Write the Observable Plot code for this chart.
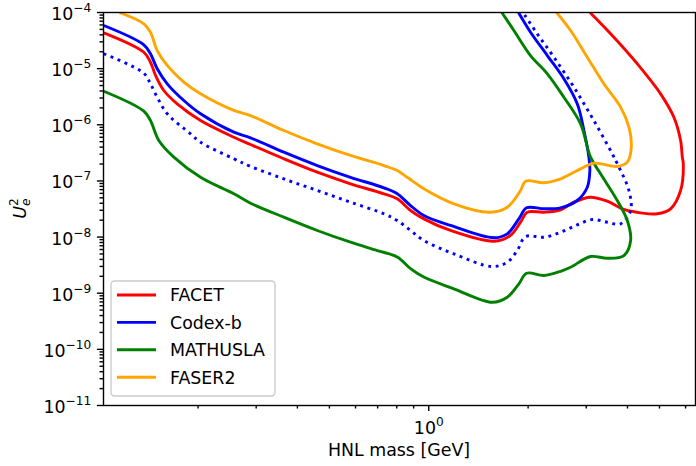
<!DOCTYPE html>
<html><head><meta charset="utf-8">
<script src="https://cdn.jsdelivr.net/npm/d3@7"></script>
<script src="https://cdn.jsdelivr.net/npm/@observablehq/plot@0.6"></script>
<style>
html,body{margin:0;padding:0;background:#fff;}
#chart svg{display:block;font-family:"DejaVu Sans",sans-serif;}
</style></head><body><div id="chart"></div>
<script>
// ---- data ----
const detectors = ["FACET", "Codex-b", "MATHUSLA", "FASER2"];
const detectorColors = ["red", "blue", "green", "orange"];

const facetMass = [0.1036,0.137,0.1435,0.1487,0.1575,0.1729,0.2035,0.2567,0.2884,0.3638,0.4594,0.5794,0.7311,0.8027,0.8807,0.9664,1.164,1.575,1.769,1.897,1.988,2.233,2.509,2.753,3.092,3.474,3.902,4.384,4.924,5.404,5.795,5.905,5.865,5.795,5.53,5.04,4.284,3.638,3.08];
const facetU2 = [4.35e-5,1.96e-5,1.30e-5,7.55e-6,4.08e-6,2.36e-6,1.19e-6,6.01e-7,4.45e-7,2.48e-7,1.43e-7,8.89e-8,5.90e-8,4.80e-8,2.97e-8,2.11e-8,1.31e-8,8.44e-9,1.07e-8,1.84e-8,2.77e-8,2.77e-8,3.06e-8,4.18e-8,5.13e-8,4.35e-8,3.10e-8,2.70e-8,2.60e-8,3.19e-8,6.75e-8,2.02e-7,2.65e-7,5.25e-7,1.36e-6,3.56e-6,1.22e-5,3.63e-5,1e-4];

const codexbMass = [0.1036,0.137,0.1435,0.1504,0.1613,0.1811,0.2035,0.2567,0.2884,0.3638,0.4594,0.5794,0.7311,0.8027,0.8807,0.9664,1.164,1.575,1.729,1.875,1.979,2.233,2.509,2.818,3.022,3.077,3.056,2.951,2.818,2.567,2.287,2.034,1.87];
const codexbU2 = [5.87e-5,2.66e-5,1.84e-5,9.94e-6,5.37e-6,2.71e-6,1.57e-6,7.38e-7,5.86e-7,3.25e-7,1.88e-7,1.16e-7,7.54e-8,5.90e-8,3.65e-8,2.42e-8,1.61e-8,9.70e-9,1.14e-8,2.11e-8,3.32e-8,3.19e-8,3.32e-8,4.48e-8,7.73e-8,1.53e-7,2.65e-7,8.0e-7,2.36e-6,6.59e-6,1.71e-5,4.46e-5,1e-4];

const codexbDottedMass = [0.1036,0.137,0.1435,0.1504,0.1613,0.1897,0.2035,0.2567,0.2884,0.3638,0.4594,0.5794,0.7311,0.8027,0.8807,0.9664,1.191,1.557,1.729,1.854,1.965,2.233,2.509,2.818,3.129,3.474,3.813,4.089,4.041,3.726,3.598,3.164,2.753,2.394,2.132,1.93];
const codexbDottedU2 = [1.84e-5,8.29e-6,5.37e-6,3.10e-6,1.57e-6,6.91e-7,4.89e-7,2.48e-7,1.81e-7,1.09e-7,6.75e-8,4.18e-8,2.60e-8,1.97e-8,1.31e-8,8.69e-9,5.03e-9,2.99e-9,3.56e-9,5.76e-9,1.02e-8,9.94e-9,1.22e-8,1.65e-8,2.05e-8,1.84e-8,1.72e-8,2.97e-8,6.75e-8,2.02e-7,3.04e-7,1.19e-6,4.67e-6,1.60e-5,4.17e-5,1e-4];

const mathuslaMass = [0.1036,0.137,0.1435,0.1521,0.1689,0.2035,0.2567,0.2884,0.3638,0.4594,0.5794,0.6982,0.8027,0.8807,0.9664,1.191,1.557,1.729,1.875,1.979,2.233,2.509,2.69,3.092,3.474,3.902,4.089,3.996,3.726,3.316,3.092,2.884,2.567,2.287,2.034,1.811,1.665];
const mathuslaU2 = [3.96e-6,1.75e-6,1.19e-6,5.25e-7,2.65e-7,1.16e-7,5.90e-8,4.01e-8,2.26e-8,1.31e-8,8.10e-9,5.76e-9,4.41e-9,2.75e-9,1.94e-9,1.20e-9,6.91e-10,8.49e-10,1.47e-9,2.27e-9,2.07e-9,2.46e-9,2.90e-9,4.50e-9,4.20e-9,4.69e-9,8.69e-9,1.97e-8,4.48e-8,1.34e-7,2.65e-7,1.04e-6,3.10e-6,8.09e-6,1.71e-5,4.78e-5,1e-4];

const faser2Mass = [0.1155,0.137,0.1435,0.1504,0.1613,0.1811,0.2035,0.2567,0.2884,0.3638,0.4594,0.5794,0.7311,0.8027,0.8606,0.9664,1.191,1.539,1.729,1.897,1.965,2.233,2.509,2.884,3.164,3.726,3.996,4.109,4.041,3.813,3.393,3.022,2.69,2.44];
const faser2U2 = [1e-4,6.29e-5,4.46e-5,2.10e-5,1.14e-5,5.73e-6,3.56e-6,1.80e-6,1.46e-6,7.91e-7,4.58e-7,2.84e-7,1.88e-7,1.53e-7,1.16e-7,7.24e-8,3.91e-8,2.77e-8,3.40e-8,6.75e-8,9.89e-8,9.26e-8,1.09e-7,1.64e-7,2.07e-7,1.81e-7,2.16e-7,3.99e-7,9.05e-7,2.06e-6,5.37e-6,1.60e-5,4.78e-5,1e-4];

const xMajorTicks = [1];
const xMajorLabels = ["10^0"];
const xMinorTicks = [0.2,0.3,0.4,0.5,0.6,0.7,0.8,0.9,2,3,4,5,6];
const yMajorTicks = [1e-11,1e-10,1e-9,1e-8,1e-7,1e-6,1e-5,1e-4];
const yMajorLabels = ["10^−11","10^−10","10^−9","10^−8","10^−7","10^−6","10^−5","10^−4"];
const yMinorTicks = yMajorTicks.slice(0, -1).flatMap(d => [2,3,4,5,6,7,8,9].map(k => k * d));
const xLabel = "HNL mass [GeV]";

// ---- chart ----
const FS = 17.4;
const LW = 2.9;
const W = 696, H = 466;
const M = {left: 103, right: 1, top: 12, bottom: 61};

const curves = [
  {mass: facetMass, u2: facetU2, color: detectorColors[0], dash: null},
  {mass: codexbMass, u2: codexbU2, color: detectorColors[1], dash: null},
  {mass: codexbDottedMass, u2: codexbDottedU2, color: detectorColors[1], dash: "2.9,4.6"},
  {mass: mathuslaMass, u2: mathuslaU2, color: detectorColors[2], dash: null},
  {mass: faser2Mass, u2: faser2U2, color: detectorColors[3], dash: null}
];

const lineMarks = curves.map(c => Plot.line(
  c.mass.map((m, i) => ({m, u: c.u2[i]})),
  {x: "m", y: "u", stroke: c.color, strokeWidth: LW, strokeDasharray: c.dash ?? undefined,
   strokeLinecap: "butt", curve: "catmull-rom", clip: true}
));

const plot = Plot.plot({
  width: W, height: H,
  marginLeft: M.left, marginRight: M.right, marginTop: M.top, marginBottom: M.bottom,
  style: {fontFamily: "DejaVu Sans, sans-serif", fontSize: FS + "px", color: "black", background: "white"},
  x: {type: "log", domain: [0.1034, 6.43], label: null},
  y: {type: "log", domain: [1e-11, 1e-4], label: null},
  marks: [
    ...lineMarks,
    Plot.axisX({ticks: xMinorTicks, tickSize: 3.5, strokeWidth: 1.4, tickFormat: () => "", label: null}),
    Plot.axisX({ticks: xMajorTicks, tickSize: 6.1, strokeWidth: 1.4, tickFormat: () => "", label: null}),
    Plot.axisY({ticks: yMinorTicks, tickSize: 3.5, strokeWidth: 1.4, tickFormat: () => "", label: null}),
    Plot.axisY({ticks: yMajorTicks, tickSize: 6.1, strokeWidth: 1.4, tickFormat: () => "", label: null}),
    Plot.text(xMajorTicks, {x: d => d, frameAnchor: "bottom", lineAnchor: "bottom", dy: 28,
      text: (d, i) => xMajorLabels[i], fontSize: FS, fill: "black"}),
    Plot.text(yMajorTicks, {y: d => d, frameAnchor: "left", lineAnchor: "bottom", textAnchor: "end",
      dx: -12.2, dy: 7.5, text: (d, i) => yMajorLabels[i], fontSize: FS, fill: "black"}),
    Plot.frame({stroke: "black", strokeWidth: 1.4})
  ]
});

document.getElementById("chart").appendChild(plot);
const svg = d3.select(plot);

// superscripts in tick labels
svg.selectAll("text").each(function () {
  const t = this.textContent;
  const m = /^10\^(.+)$/.exec(t);
  if (!m) return;
  const el = d3.select(this);
  el.text(null);
  el.append("tspan").text("10");
  el.append("tspan").attr("dy", -8).attr("font-size", FS * 0.7).text(m[1]);
});

// x label
svg.append("text")
  .attr("x", (M.left + W - M.right) / 2).attr("y", 456)
  .attr("text-anchor", "middle").attr("font-size", FS).attr("fill", "black")
  .text(xLabel);

// y label U_e^2
const yl = svg.append("text")
  .attr("transform", `translate(26,${(M.top + H - M.bottom) / 2}) rotate(-90)`)
  .attr("text-anchor", "middle").attr("font-size", FS).attr("fill", "black");
yl.append("tspan").attr("font-style", "italic").text("U");
yl.append("tspan").attr("font-style", "italic").attr("font-size", FS * 0.7).attr("dy", 3.5).text("e");
yl.append("tspan").attr("font-size", FS * 0.7).attr("dx", -7.3).attr("dy", -11.5).text("2");

// legend
const lg = svg.append("g");
lg.append("rect").attr("x", 111).attr("y", 281).attr("width", 164).attr("height", 115)
  .attr("rx", 3.5).attr("fill", "white").attr("fill-opacity", 0.8)
  .attr("stroke", "#cccccc").attr("stroke-width", 1.4);
detectors.forEach((name, i) => {
  const cy = 295 + i * 27.4;
  lg.append("line").attr("x1", 117).attr("x2", 156).attr("y1", cy).attr("y2", cy)
    .attr("stroke", detectorColors[i]).attr("stroke-width", LW);
  lg.append("text").attr("x", 170).attr("y", cy + 6.4).attr("font-size", FS)
    .attr("text-anchor", "start").attr("fill", "black").text(name);
});
</script></body></html>
